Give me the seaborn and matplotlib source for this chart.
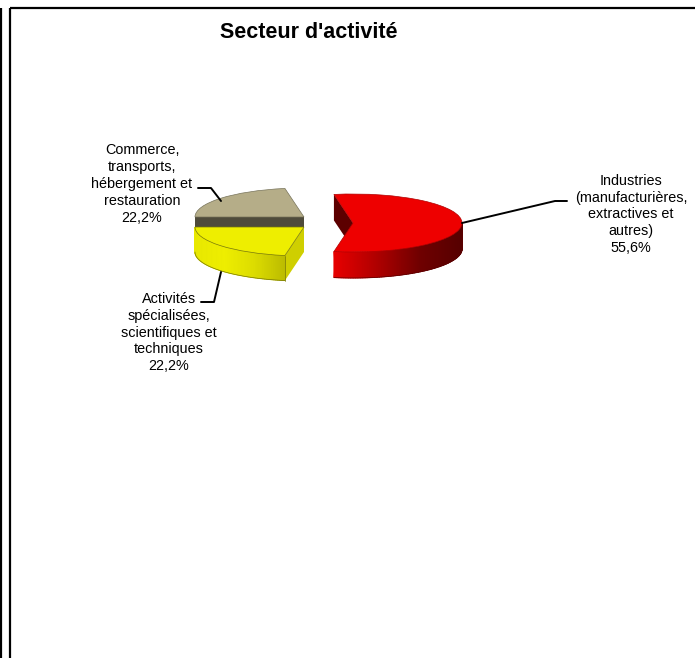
import numpy as np
import matplotlib
matplotlib.use('Agg')
import matplotlib.pyplot as plt
from matplotlib.colors import LinearSegmentedColormap
import seaborn as sns

title = "Secteur d'activité"
labels = ['Industries\n(manufacturières,\nextractives et\nautres)\n55,6%',
          'Commerce,\ntransports,\nhébergement et\nrestauration\n22,2%',
          'Activités\nspécialisées,\nscientifiques et\ntechniques\n22,2%']
values = [55.6, 22.2, 22.2]
top_colors = ['#ee0000', '#b5ad88', '#eeee00']
edge_colors = ['#b00000', '#77735a', '#77770a']

sns.set_theme(style='white')
plt.rcParams['font.family'] = ['Liberation Sans', 'DejaVu Sans']

W, H = 695, 658
RX, RY, DEPTH = 109, 29, 26

fig = plt.figure(figsize=(W / 100, H / 100), dpi=100)
ax = fig.add_axes([0, 0, 1, 1])

# slice angles come from the values, red one is centred on the right
spans = [v * 3.6 for v in values]
starts = [-spans[0] / 2, spans[0] / 2, spans[0] / 2 + spans[1]]


def to_x(px):
    return np.asarray(px, dtype=float) / RX


def to_y(py):
    return (H - np.asarray(py, dtype=float)) / RY


def arc(cx, cy, a0, a1, n=80):
    t = np.radians(np.linspace(a0, a1, n))
    return cx + RX * np.cos(t), cy - RY * np.sin(t)


def side(cx, cy, a0, a1, depth, cmap, edge, z=1):
    x, y = arc(cx, cy, a0, a1)
    X = to_x(np.vstack([x, x]))
    Y = to_y(np.vstack([y, y + depth]))
    c = (x - x.min()) / (x.max() - x.min())
    ax.pcolormesh(X, Y, np.vstack([c, c]), cmap=cmap, shading='gouraud', zorder=z)
    ax.plot(to_x(x), to_y(y + depth), color=edge, lw=0.5, zorder=z + 0.1)
    ax.plot(to_x([x[-1], x[-1]]), to_y([y[-1], y[-1] + depth]), color=edge, lw=0.5, zorder=z + 0.1)


def cut(cx, cy, ang, depth, color, z=1):
    x, y = arc(cx, cy, ang, ang, n=1)
    px = [cx, x[0], x[0], cx]
    py = [cy, y[0], y[0] + depth, cy + depth]
    ax.fill(to_x(px), to_y(py), color=color, lw=0, zorder=z)


def top(i, cx, cy):
    wedges, _ = ax.pie([values[i] / 100], colors=[top_colors[i]], startangle=starts[i], normalize=False,
                       center=(float(to_x(cx)), float(to_y(cy))), radius=1,
                       wedgeprops={'edgecolor': edge_colors[i], 'linewidth': 0.5})
    for w in wedges:
        w.set_zorder(3)


reds = LinearSegmentedColormap.from_list('r', ['#e80000', '#b00000', '#700000', '#560000'])
yellows = LinearSegmentedColormap.from_list('y', ['#e8e800', '#eeee00', '#dcdc00', '#bcbc00'])

# red slice
cut(353, 223, starts[0] + spans[0], DEPTH, '#5c0000')
side(353, 223, starts[0], 0, DEPTH, reds, '#5c0000')
top(0, 353, 223)

# commerce slice, dark band under it is its cut face
ax.fill(to_x([195, 304, 304, 195]), to_y([217, 217, 227, 227]), color='#4f4b3b', lw=0, zorder=2)
top(1, 304, 217)

# activites slice
a_end = starts[2] + spans[2]
cut(304, 227, a_end, 25, '#cfcf00')
side(304, 227, 180, a_end, 25, yellows, '#77770a')
top(2, 304, 227)

ax.set_aspect('auto')
ax.set_xlim(0, W / RX)
ax.set_ylim(0, H / RY)
ax.axis('off')

# frame, leaders and text in pixel coords
ov = fig.add_axes([0, 0, 1, 1], facecolor='none')
ov.set_xlim(0, W)
ov.set_ylim(H, 0)
ov.axis('off')

for xs, ys in [([1, 1], [8, H]), ([10, 10], [H, 8]), ([10, W], [8, 8])]:
    ov.plot(xs, ys, color='black', lw=1.6, solid_capstyle='butt')

for xs, ys in [([462, 555, 567], [223, 201, 201]),
               ([198, 211, 221], [188, 188, 201]),
               ([201, 214, 221], [302, 302, 272])]:
    ov.plot(xs, ys, color='black', lw=1.4)

ov.text(309, 33, title, ha='center', va='center', fontsize=15.5, fontweight='bold', color='black')
for lab, x, y in zip(labels, [631, 142, 169], [214.5, 184, 332.5]):
    ov.text(x, y, lab, ha='center', va='center', fontsize=10.4, color='black', linespacing=1.27)

fig.savefig('out.png', dpi=100)
